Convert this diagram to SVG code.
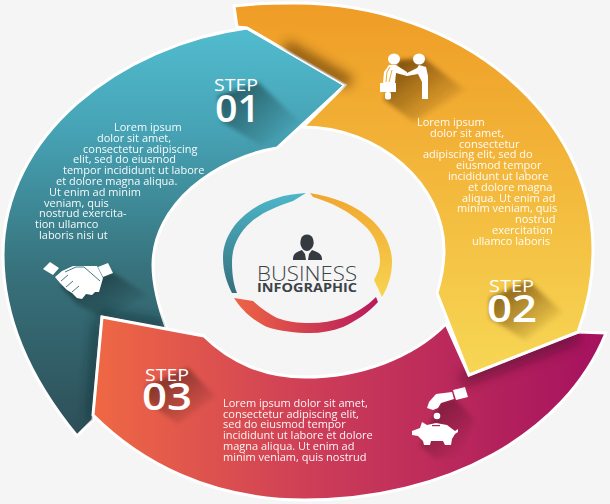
<svg xmlns="http://www.w3.org/2000/svg" width="610" height="504" viewBox="0 0 610 504">
<style>
.seg{stroke:#fff;stroke-width:3;stroke-linejoin:miter}
.t{font-family:"Open Sans","Liberation Sans",sans-serif;font-size:11px;fill:#fff;opacity:.95}
.st{font-family:"Open Sans","Liberation Sans",sans-serif;font-size:17px;fill:#fff}
.num{font-family:"Open Sans","Liberation Sans",sans-serif;font-size:38px;font-weight:600;fill:#fff}
.ic{fill:#fff}
.ls{filter:url(#b2)}
.es{filter:url(#b6);fill:none}
</style>
<defs>
<filter id="b2" x="-20%" y="-20%" width="140%" height="140%"><feGaussianBlur stdDeviation="2"/></filter>
<filter id="b6" filterUnits="userSpaceOnUse" x="0" y="0" width="610" height="504"><feGaussianBlur stdDeviation="6"/></filter>
<linearGradient id="gT" gradientUnits="userSpaceOnUse" x1="0" y1="28" x2="0" y2="436"><stop offset="0" stop-color="#52bccf"/><stop offset=".25" stop-color="#46a3b5"/><stop offset=".6" stop-color="#37717b"/><stop offset="1" stop-color="#2d4f57"/></linearGradient>
<linearGradient id="gO" gradientUnits="userSpaceOnUse" x1="0" y1="10" x2="0" y2="370"><stop offset="0" stop-color="#ef9d26"/><stop offset="1" stop-color="#f7d654"/></linearGradient>
<linearGradient id="gR" gradientUnits="userSpaceOnUse" x1="95" y1="0" x2="600" y2="0"><stop offset="0" stop-color="#ef6844"/><stop offset=".45" stop-color="#cc3c58"/><stop offset="1" stop-color="#a5125f"/></linearGradient>
<linearGradient id="rT" gradientUnits="userSpaceOnUse" x1="0" y1="193" x2="0" y2="293"><stop offset="0" stop-color="#4db6c9"/><stop offset="1" stop-color="#35707b"/></linearGradient>
<linearGradient id="rO" gradientUnits="userSpaceOnUse" x1="0" y1="193" x2="0" y2="297"><stop offset="0" stop-color="#f1a62e"/><stop offset="1" stop-color="#f7d450"/></linearGradient>
<linearGradient id="rR" gradientUnits="userSpaceOnUse" x1="234" y1="0" x2="378" y2="0"><stop offset="0" stop-color="#ee6544"/><stop offset="1" stop-color="#b71a5c"/></linearGradient>
<linearGradient id="sDark" x1="0" y1="0" x2="1" y2="1"><stop offset="0" stop-color="#000" stop-opacity=".55"/><stop offset=".85" stop-color="#000" stop-opacity="0"/></linearGradient>
<linearGradient id="sBrown" x1="0" y1="0" x2="1" y2="1"><stop offset="0" stop-color="#4f2c06" stop-opacity=".8"/><stop offset=".85" stop-color="#4f2c06" stop-opacity="0"/></linearGradient>
<path id="pT" d="M247,28 L345,85 L277,148 C215,158 153,205 153,265 C153,285 158,305 167,330 L102,317 L93,420 L77,436 C35,385 3,325 3,255 C3,135 120,45 247,28 Z"/>
<path id="pR" d="M102,317 L204,336 C230,362 265,377 305,377 C360,377 412,358 446,324 L469,375 L578,332 L606,333 C565,435 445,500 305,500 C210,500 140,462 93,415 Z"/>
<path id="pO" d="M234,6 C255,3 275,3 295,3 C460,3 593,115 593,250 C593,280 587,308 578,332 L469,375 L437,293 C441,280 444,265 444,250 C444,185 380,127 303,127 L345,85 L247,28 L237,27 Z"/>
<clipPath id="cT"><use href="#pT"/></clipPath>
<clipPath id="cR"><use href="#pR"/></clipPath>
<clipPath id="cO"><use href="#pO"/></clipPath>
</defs>
<rect width="610" height="504" fill="#f5f5f5"/>
<g id="step1">
<use href="#pT" class="seg" fill="url(#gT)"/>
<g clip-path="url(#cT)"><path d="M98,322 L92,420 M98,314 L165,326" class="es" stroke="#0c2226" stroke-width="8" opacity=".6"/></g>
<path d="M218,96 L258,82 L300,122 L262,146 L222,122 Z" fill="url(#sDark)" class="ls"/>
<path d="M60,285 L112,272 L148,295 L103,318 L78,305 Z" fill="url(#sDark)" class="ls"/>
<text class="st" x="214" y="91" textLength="44" lengthAdjust="spacingAndGlyphs">STEP</text>
<text class="num" x="215" y="122" textLength="45" lengthAdjust="spacingAndGlyphs">01</text>
<g class="t">
<text x="114" y="131">Lorem ipsum</text>
<text x="97" y="141.8">dolor sit amet,</text>
<text x="83" y="152.6">consectetur adipiscing</text>
<text x="73" y="163.4">elit, sed do eiusmod</text>
<text x="63" y="174.2">tempor incididunt ut labore</text>
<text x="56" y="185">et dolore magna aliqua.</text>
<text x="49" y="195.8">Ut enim ad minim</text>
<text x="44" y="206.6">veniam, quis</text>
<text x="39" y="217.4">nostrud exercita-</text>
<text x="35" y="228.2">tion ullamco</text>
<text x="39" y="239">laboris nisi ut</text>
</g>
<g id="icon-handshake" class="ic">
<path d="M43,269 L50,262 L59,268 L53,275 Z"/>
<path d="M98,267 L108,263 L113,273 L103,277 Z"/>
<path d="M62,271 L73,266 L97,266 L103,278 L99,292 L95,292 L92,295 L86,294 L82,299 L77,298 L72,293 L67,290 L60,283 L55,277 Z"/>
<path d="M65,272 L76,267 L84,267 L100,281 M61,281 L68,275 M66,287 L73,281 M72,292 L79,286" fill="none" stroke="#3f7a83" stroke-width="1"/>
</g>
</g>
<g id="step3">
<use href="#pR" class="seg" fill="url(#gR)"/>
<path d="M146,386 L188,368 L215,396 L178,424 L148,402 Z" fill="url(#sDark)" class="ls"/>
<path d="M440,402 L455,398 L474,420 L458,456 L436,459 L420,446 Z" fill="url(#sDark)" class="ls" opacity=".75"/>
<text class="st" x="145" y="381" textLength="44" lengthAdjust="spacingAndGlyphs">STEP</text>
<text class="num" x="142" y="410" textLength="50" lengthAdjust="spacingAndGlyphs">03</text>
<g class="t">
<text x="223" y="406.7">Lorem ipsum dolor sit amet,</text>
<text x="223" y="417.5">consectetur adipiscing elit,</text>
<text x="223" y="428.3">sed do eiusmod tempor</text>
<text x="223" y="439.1">incididunt ut labore et dolore</text>
<text x="223" y="449.9">magna aliqua. Ut enim ad</text>
<text x="223" y="460.7">minim veniam, quis nostrud</text>
</g>
<g id="icon-piggy" class="ic">
<path d="M453,390 L465,387 L468,397 L456,400 Z"/>
<path d="M452,392 L436,394 L429,402 L427,408 L433,410 L438,408 L441,403 L454,399 Z"/>
<circle cx="437" cy="416" r="3.3"/>
<path d="M412,431 L420,428 L422,422 L427,425 L436,423 L447,425 L455,431 L458,429 L458,432 L455,434 L452,439 L451,445 L445,445 L443,441 L431,441 L430,445 L424,445 L423,441 L418,436 L412,435 Z"/>
<rect x="432" y="425" width="8" height="1.2" fill="#b02260"/>
</g>
</g>
<g id="step2">
<g clip-path="url(#cR)"><path d="M462,380 L578,336" class="es" stroke="#3c0a28" stroke-width="12" opacity=".55"/></g>
<use href="#pO" class="seg" fill="url(#gO)"/>
<g clip-path="url(#cO)"><path d="M285,46 L350,83" class="es" stroke="#4f2c06" stroke-width="12" opacity=".65"/></g>
<path d="M398,60 L424,58 L465,90 L414,122 L384,100 Z" fill="url(#sBrown)" class="ls"/>
<path d="M490,298 L528,280 L562,312 L525,340 L490,318 Z" fill="url(#sBrown)" class="ls"/>
<text class="st" x="489" y="292" textLength="45" lengthAdjust="spacingAndGlyphs">STEP</text>
<text class="num" x="487" y="322" textLength="50" lengthAdjust="spacingAndGlyphs">02</text>
<g class="t">
<text x="417" y="126">Lorem ipsum</text>
<text x="430" y="136.8">dolor sit amet,</text>
<text x="459" y="147.6">consectetur</text>
<text x="423" y="158.4">adipiscing elit, sed do</text>
<text x="456" y="169.2">eiusmod tempor</text>
<text x="448" y="180">incididunt ut labore</text>
<text x="468" y="190.8">et dolore magna</text>
<text x="462" y="201.6">aliqua. Ut enim ad</text>
<text x="457" y="212.4">minim veniam, quis</text>
<text x="515" y="223.2">nostrud</text>
<text x="492" y="234">exercitation</text>
<text x="472" y="244.8">ullamco laboris</text>
</g>
<g id="icon-businessmen" class="ic">
<ellipse cx="394" cy="59" rx="6" ry="5.5"/>
<ellipse cx="419" cy="59" rx="6" ry="5.5"/>
<path d="M389,65 L396,65 L407,72 L407,76 L396,73 L395,83 L383,83 L384,72 Z"/>
<rect x="380" y="83" width="16" height="9"/>
<rect x="385" y="92" width="6" height="7.5" rx="2"/>
<path d="M419,65 L426,67 L428,76 L428,99 L422,99 L422,82 L418,74 L407,76 L407,73 L417,68 Z"/>
<path d="M390,67 L387,72 L386,82 M392,70 L389,82" fill="none" stroke="#efaa30" stroke-width="1"/>
</g>
</g>
<g id="center">
<path d="M306,193 C295,194 285,195 277,198 C245,207 223,232 223,258 C223,272 227,283 232,293 L237,293 C233,283 232,272 232,262 C232,245 240,232 250,223 C262,212 278,206 293,201 Z" fill="url(#rT)"/>
<path d="M310,193 C322,195 333,198 343,202 C370,213 392,235 392,262 C392,275 388,287 382,297 L374,280 C377,274 380,268 380,262 C380,248 375,237 367,228 C358,219 348,212 340,208 C331,203 322,200 313,197 Z" fill="url(#rO)"/>
<path d="M234,298 L253,301 C262,309 268,313 277,318 C288,322 298,323 310,323 C322,323 333,321 343,318 C356,313 367,306 376,297 L378,302 C368,313 356,321 343,327 C332,331 321,333 310,333 C296,333 280,331 267,327 C252,320 242,310 234,298 Z" fill="url(#rR)"/>
<g id="person" fill="#343a40">
<path d="M301,239 C302,233 312,233 313,239 C314,242 314,245 312,248 C310,250 309,251 307,251 C305,251 303,250 302,248 C300,245 300,242 301,239 Z"/>
<path d="M293,259 C293,254 296,252 302,250 L305,254 L306,260 L308,260 L309,254 L312,250 C318,252 322,254 322,259 L322,260 L293,260 Z"/>
</g>
<text x="257" y="281" textLength="100" lengthAdjust="spacingAndGlyphs" font-family="'Open Sans','Liberation Sans',sans-serif" font-size="20" font-weight="300" fill="#3c4347">BUSINESS</text>
<text x="257" y="292" textLength="100" lengthAdjust="spacingAndGlyphs" font-family="'Open Sans','Liberation Sans',sans-serif" font-size="12.5" font-weight="700" fill="#3c4347">INFOGRAPHIC</text>
</g>
</svg>
